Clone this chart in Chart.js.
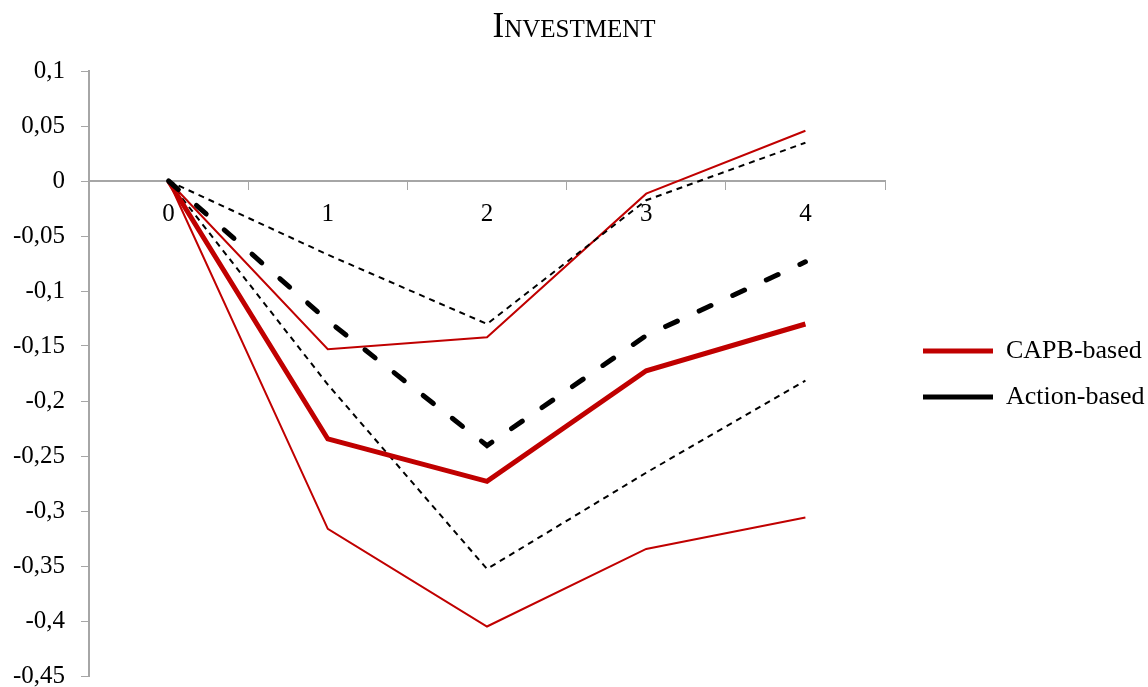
<!DOCTYPE html>
<html>
<head>
<meta charset="utf-8">
<script src="https://cdn.jsdelivr.net/npm/chart.js@4"></script>
<style>
html,body{margin:0;padding:0;background:#fff;}
#wrap{width:1148px;height:687px;}
</style>
</head>
<body>
<div id="wrap"><canvas id="c" width="1148" height="687"></canvas></div>
<script>
const categories = ['0', '1', '2', '3', '4'];
const capbBased = [0, -0.2345, -0.273, -0.1725, -0.13];
const capbUpper = [0, -0.153, -0.142, -0.0115, 0.0457];
const capbLower = [0, -0.3162, -0.405, -0.3345, -0.306];
const actionBased = [0, -0.127, -0.2405, -0.1405, -0.0735];
const actionUpper = [0, -0.067, -0.130, -0.0175, 0.0348];
const actionLower = [0, -0.185, -0.3527, -0.2652, -0.1815];
const yTicks = { min: -0.45, max: 0.1, step: 0.05 };

const RED = '#C00000';
const SERIF = "'Liberation Serif', 'Times New Roman', serif";
const AXIS = '#A6A6A6';

const data = {
  labels: categories,
  datasets: [
    { label: 'CAPB-based', data: capbBased, borderColor: RED, backgroundColor: RED, borderWidth: 5, pointRadius: 0, tension: 0, order: 1 },
    { label: 'Action-based', data: actionBased, borderColor: '#000', backgroundColor: '#000', borderWidth: 5, borderDash: [13, 24], borderCapStyle: 'round', pointRadius: 0, tension: 0, order: 0 },
    { label: 'CAPB upper', data: capbUpper, borderColor: RED, borderWidth: 2, pointRadius: 0, tension: 0, order: 3 },
    { label: 'CAPB lower', data: capbLower, borderColor: RED, borderWidth: 2, pointRadius: 0, tension: 0, order: 3 },
    { label: 'Action upper', data: actionUpper, borderColor: '#000', borderWidth: 2, borderDash: [6, 5], pointRadius: 0, tension: 0, order: 2 },
    { label: 'Action lower', data: actionLower, borderColor: '#000', borderWidth: 2, borderDash: [6, 5], pointRadius: 0, tension: 0, order: 2 }
  ]
};

new Chart(document.getElementById('c'), {
  type: 'line',
  data: data,
  options: {
    responsive: false,
    animation: false,
    devicePixelRatio: 1,
    layout: { padding: { left: 0, right: 0, top: 0, bottom: 11 } },
    plugins: {
      title: {
        display: true,
        text: 'Investment',
        color: '#000',
        font: { family: SERIF, size: 35, weight: 'small-caps', lineHeight: 1.2 },
        padding: { top: 7, bottom: 22 }
      },
      legend: {
        position: 'right',
        align: 'center',
        maxWidth: 245,
        title: {
          display: true,
          text: '',
          font: { family: SERIF, size: 10, lineHeight: 1 },
          padding: { top: 0, bottom: 62 }
        },
        labels: {
          usePointStyle: true,
          pointStyle: 'line',
          pointStyleWidth: 70,
          boxHeight: 26,
          padding: 20,
          color: '#000',
          font: { family: SERIF, size: 26 },
          filter: (item) => item.datasetIndex < 2,
          sort: (a, b) => a.datasetIndex - b.datasetIndex
        }
      },
      tooltip: { enabled: false }
    },
    scales: {
      x: {
        type: 'category',
        position: { y: 0 },
        offset: true,
        afterFit: (s) => { s.height = 0; s.paddingTop = 0; s.paddingBottom = 0; },
        grid: { display: true, drawOnChartArea: false, drawTicks: true, tickLength: 8, color: AXIS, offset: true },
        border: { display: true, color: AXIS, width: 2 },
        ticks: { color: '#000', font: { family: SERIF, size: 25 }, padding: 10, maxRotation: 0 }
      },
      y: {
        min: yTicks.min,
        max: yTicks.max,
        afterFit: (s) => { s.width = 89; s.paddingTop = 0; s.paddingBottom = 0; },
        grid: { display: true, drawOnChartArea: false, drawTicks: true, tickLength: 8, color: AXIS },
        border: { display: true, color: AXIS, width: 2 },
        ticks: {
          stepSize: yTicks.step,
          color: '#000',
          padding: 16,
          font: { family: SERIF, size: 25 },
          callback: (v) => Number(Number(v).toFixed(2)).toString().replace('.', ',')
        }
      },
      spacer: {
        type: 'linear',
        position: 'right',
        display: true,
        grid: { display: false },
        border: { display: false },
        ticks: { display: false },
        afterFit: (s) => { s.width = 18; s.paddingTop = 0; s.paddingBottom = 0; }
      }
    }
  }
});
</script>
</body>
</html>
